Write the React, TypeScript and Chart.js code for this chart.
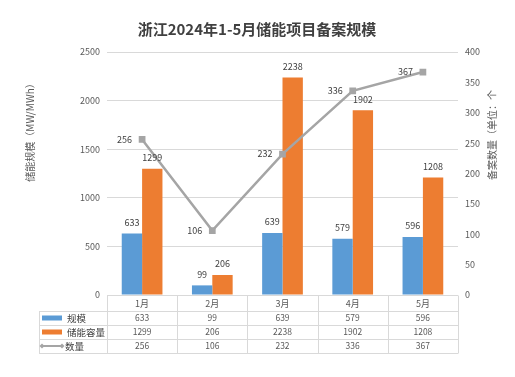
import React, { useEffect, useRef } from "react";
import { Chart, registerables } from "chart.js";

Chart.register(...registerables);

const TITLE = "浙江2024年1-5月储能项目备案规模";
const LEFT_AXIS_TITLE = "储能规模（MW/MWh）";
const RIGHT_AXIS_TITLE = "备案数量（单位：个";
const months = ["1月", "2月", "3月", "4月", "5月"];
const seriesNames = ["规模", "储能容量", "数量"];
const scaleValues = [633, 99, 639, 579, 596];
const capacityValues = [1299, 206, 2238, 1902, 1208];
const countValues = [256, 106, 232, 336, 367];

const BLUE = "#5B9BD5";
const ORANGE = "#ED7D31";
const GRAY = "#A5A5A5";
const FONT = '"Noto Sans CJK SC", "Noto Sans", sans-serif';

const decorPlugin = {
  id: "decor",
  afterDatasetsDraw(chart: any) {
    const ctx = chart.ctx;
    ctx.save();
    ctx.font = `9px ${FONT}`;
    ctx.fillStyle = "#404040";
    [0, 1].forEach((di) => {
      const meta = chart.getDatasetMeta(di);
      const vals = chart.data.datasets[di].data;
      meta.data.forEach((el: any, i: number) => {
        ctx.textAlign = "center";
        ctx.textBaseline = "middle";
        ctx.fillText(String(vals[i]), el.x, el.y - 11);
      });
    });
    const lm = chart.getDatasetMeta(2);
    const lv = chart.data.datasets[2].data;
    lm.data.forEach((el: any, i: number) => {
      ctx.textAlign = "right";
      ctx.textBaseline = "middle";
      ctx.fillText(String(lv[i]), el.x - 10, el.y);
    });
    ctx.restore();
  },
  afterDraw(chart: any) {
    const ctx = chart.ctx;
    const ca = chart.chartArea;
    const xs = chart.scales.x;
    ctx.save();
    ctx.font = `bold 15px ${FONT}`;
    ctx.fillStyle = "#404040";
    ctx.textAlign = "center";
    ctx.textBaseline = "middle";
    ctx.fillText(TITLE, 257, 29);
    ctx.font = `10px ${FONT}`;
    ctx.fillStyle = "#595959";
    ctx.save();
    ctx.translate(30, 130);
    ctx.rotate(-Math.PI / 2);
    ctx.fillText(LEFT_AXIS_TITLE, 0, 0);
    ctx.restore();
    ctx.save();
    ctx.translate(492, 135);
    ctx.rotate(-Math.PI / 2);
    ctx.fillText(RIGHT_AXIS_TITLE, 0, 0);
    ctx.restore();

    const n = months.length;
    const bounds: number[] = [];
    for (let i = 0; i <= n; i++) bounds.push(ca.left + ((ca.right - ca.left) * i) / n);
    const tableLeft = 39;
    const rowsY = [ca.bottom, ca.bottom + 15.5, ca.bottom + 29.5, ca.bottom + 43.5, ca.bottom + 57.5];
    ctx.strokeStyle = "#D9D9D9";
    ctx.lineWidth = 1;
    ctx.beginPath();
    ctx.moveTo(ca.left, Math.round(rowsY[0]) + 0.5);
    ctx.lineTo(ca.right, Math.round(rowsY[0]) + 0.5);
    for (let r = 1; r < rowsY.length; r++) {
      const y = Math.round(rowsY[r]) + 0.5;
      ctx.moveTo(tableLeft, y);
      ctx.lineTo(ca.right, y);
    }
    ctx.moveTo(tableLeft + 0.5, Math.round(rowsY[1]) + 0.5);
    ctx.lineTo(tableLeft + 0.5, Math.round(rowsY[4]) + 0.5);
    bounds.forEach((b) => {
      const x = Math.round(b) + 0.5;
      ctx.moveTo(x, Math.round(rowsY[0]) + 0.5);
      ctx.lineTo(x, Math.round(rowsY[4]) + 0.5);
    });
    ctx.stroke();

    ctx.textAlign = "center";
    ctx.textBaseline = "middle";
    ctx.font = `9px ${FONT}`;
    ctx.fillStyle = "#595959";
    months.forEach((m, i) => {
      ctx.fillText(m, xs.getPixelForValue(i), (rowsY[0] + rowsY[1]) / 2 + 0.5);
    });
    const rows = [scaleValues, capacityValues, countValues];
    ctx.font = `8.5px ${FONT}`;
    rows.forEach((vals, r) => {
      const yc = (rowsY[r + 1] + rowsY[r + 2]) / 2 + 0.5;
      vals.forEach((v, i) => {
        ctx.fillText(String(v), xs.getPixelForValue(i), yc);
      });
    });
    ctx.textAlign = "left";
    ctx.font = `9.5px ${FONT}`;
    seriesNames.forEach((name, r) => {
      const yc = (rowsY[r + 1] + rowsY[r + 2]) / 2 + 0.5;
      if (r === 0 || r === 1) {
        ctx.fillStyle = r === 0 ? BLUE : ORANGE;
        ctx.fillRect(42, yc - 2.5, 20, 5);
      } else {
        ctx.strokeStyle = GRAY;
        ctx.lineWidth = 2;
        ctx.beginPath();
        ctx.moveTo(42, yc);
        ctx.lineTo(62, yc);
        ctx.stroke();
        ctx.fillStyle = GRAY;
        [42, 62].forEach((px) => {
          ctx.beginPath();
          ctx.moveTo(px, yc - 2.5);
          ctx.lineTo(px + 2.5, yc);
          ctx.lineTo(px, yc + 2.5);
          ctx.lineTo(px - 2.5, yc);
          ctx.closePath();
          ctx.fill();
        });
      }
      ctx.fillStyle = "#404040";
      ctx.fillText(name, r === 2 ? 65 : 67, yc);
    });
    ctx.restore();
  },
};

export default function App() {
  const ref = useRef<HTMLCanvasElement>(null);
  useEffect(() => {
    if (!ref.current) return;
    const chart = new Chart(ref.current, {
      type: "bar",
      data: {
        labels: months,
        datasets: [
          {
            type: "bar",
            label: seriesNames[0],
            data: scaleValues,
            backgroundColor: BLUE,
            yAxisID: "y",
            order: 1,
            categoryPercentage: 0.58,
            barPercentage: 1,
          },
          {
            type: "bar",
            label: seriesNames[1],
            data: capacityValues,
            backgroundColor: ORANGE,
            yAxisID: "y",
            order: 1,
            categoryPercentage: 0.58,
            barPercentage: 1,
          },
          {
            type: "line",
            label: seriesNames[2],
            data: countValues,
            borderColor: GRAY,
            backgroundColor: GRAY,
            borderWidth: 2.5,
            pointStyle: "rect",
            pointRadius: 3,
            pointBackgroundColor: GRAY,
            pointBorderColor: GRAY,
            yAxisID: "y1",
            order: 0,
          } as any,
        ],
      },
      options: {
        responsive: false,
        animation: false,
        layout: { padding: { top: 52, left: 0, right: 0, bottom: 0 } },
        plugins: {
          legend: { display: false },
          title: { display: false },
          tooltip: { enabled: false },
        },
        scales: {
          x: {
            ticks: { display: false },
            grid: { display: false },
            border: { display: false },
            afterFit: (s: any) => {
              s.height = 82;
            },
          },
          y: {
            position: "left",
            min: 0,
            max: 2500,
            ticks: {
              stepSize: 500,
              color: "#595959",
              font: { size: 9, family: FONT },
              padding: 7,
              callback: (v: any) => String(v),
            },
            grid: { color: "#D9D9D9", drawTicks: false },
            border: { display: false },
            afterFit: (s: any) => {
              s.width = 107;
            },
          },
          y1: {
            position: "right",
            min: 0,
            max: 400,
            ticks: {
              stepSize: 50,
              color: "#595959",
              font: { size: 9, family: FONT },
              padding: 7,
              callback: (v: any) => String(v),
            },
            grid: { display: false, drawTicks: false },
            border: { display: false },
            afterFit: (s: any) => {
              s.width = 57;
            },
          },
        },
      },
      plugins: [decorPlugin],
    });
    return () => chart.destroy();
  }, []);
  return (
    <div style={{ position: "fixed", left: 0, top: 0, width: 515, height: 377, background: "#fff" }}>
      <canvas ref={ref} width={515} height={377} style={{ display: "block" }} />
    </div>
  );
}
